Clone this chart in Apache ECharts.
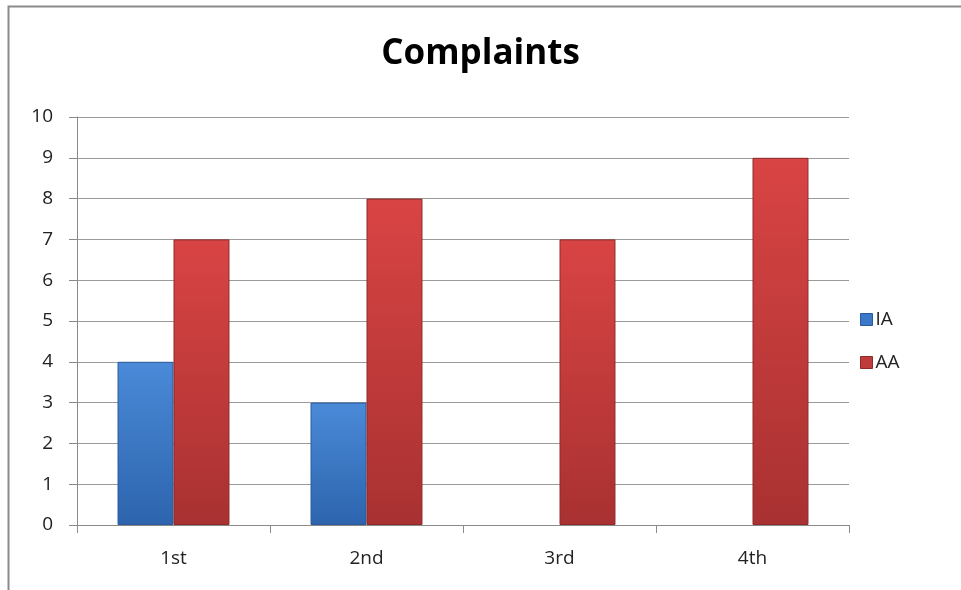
<!DOCTYPE html>
<html>
<head>
<meta charset="utf-8">
<script src="https://cdn.jsdelivr.net/npm/echarts@6/dist/echarts.min.js"></script>
<style>html,body{margin:0;padding:0;background:#fff}#c{width:961px;height:590px}</style>
</head>
<body>
<div id="c"></div>
<script>
var categories = ['1st', '2nd', '3rd', '4th'];
var seriesNames = ['IA', 'AA'];
var iaValues = [4, 3, 0, 0];
var aaValues = [7, 8, 7, 9];
var yTicks = [0, 1, 2, 3, 4, 5, 6, 7, 8, 9, 10];

var chart = echarts.init(document.getElementById('c'));
function grad(top, bottom) {
  return new echarts.graphic.LinearGradient(0, 0, 0, 1, [
    {offset: 0, color: top}, {offset: 1, color: bottom}
  ]);
}
var blue = grad('#4a8ad8', '#2d64ad');
var red = grad('#d94444', '#a93131');
function itemsFor(values, color, border) {
  return values.map(function (v) {
    return {value: v, itemStyle: {color: color, borderColor: border, borderWidth: v === 0 ? 0 : 1}};
  });
}
chart.setOption({
  animation: false,
  textStyle: {fontFamily: 'Open Sans'},
  title: {
    text: 'Complaints', left: 'center', top: 32,
    textStyle: {fontFamily: 'Open Sans', fontWeight: 'bold', fontSize: 35, color: '#000'}
  },
  graphic: [{
    type: 'rect', left: 6, top: 4,
    shape: {width: 1000, height: 700},
    style: {fill: 'none', stroke: '#8a8a8a', lineWidth: 2}
  }],
  legend: {
    orient: 'vertical', left: 855, top: 305, itemGap: 24,
    itemWidth: 12, itemHeight: 12, icon: 'rect',
    textStyle: {fontSize: 19, color: '#222', fontFamily: 'Open Sans', padding: [0, 0, 0, -2]},
    data: [
      {name: 'IA', itemStyle: {color: '#3a78c8', borderColor: '#2a5a9c', borderWidth: 1}},
      {name: 'AA', itemStyle: {color: '#c03b3b', borderColor: '#8e2a2a', borderWidth: 1}}
    ]
  },
  grid: {left: 77, right: 112, top: 117, bottom: 65},
  xAxis: {
    type: 'category', data: categories,
    axisLine: {lineStyle: {color: '#8a8a8a', width: 1}},
    axisTick: {show: true, length: 8, alignWithLabel: false, lineStyle: {color: '#8a8a8a'}},
    axisLabel: {fontSize: 19, color: '#222', margin: 24}
  },
  yAxis: {
    type: 'value', min: 0, max: 10, interval: 1,
    axisLine: {show: true, lineStyle: {color: '#8a8a8a'}},
    axisTick: {show: true, length: 8, lineStyle: {color: '#8a8a8a'}},
    axisLabel: {fontSize: 19, color: '#222', margin: 24,
      formatter: function (v) { return yTicks.indexOf(v) >= 0 ? String(v) : ''; }},
    splitLine: {lineStyle: {color: '#9a9a9a'}}
  },
  series: [
    {name: seriesNames[0], type: 'bar', data: itemsFor(iaValues, blue, '#2a5a9c'), barGap: '0%', barCategoryGap: '42%'},
    {name: seriesNames[1], type: 'bar', data: itemsFor(aaValues, red, '#8e2a2a'), barGap: '0%', barCategoryGap: '42%'}
  ]
});
</script>
</body>
</html>
